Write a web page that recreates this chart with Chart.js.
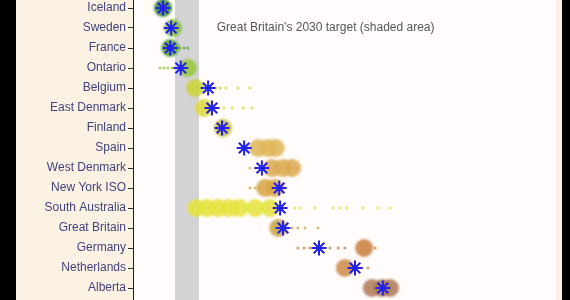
<!DOCTYPE html>
<html>
<head>
<meta charset="utf-8">
<script src="https://cdn.jsdelivr.net/npm/chart.js@4/dist/chart.umd.min.js"></script>
<style>
  html, body { margin:0; padding:0; background:#000; }
  #wrap { width:570px; height:300px; position:relative; }
</style>
</head>
<body>
<div id="wrap"><canvas id="c" width="570" height="300"></canvas></div>
<script>
// ---- data (x in gCO2/kWh) ----
const rows = ['Iceland','Sweden','France','Ontario','Belgium','East Denmark','Finland','Spain',
  'West Denmark','New York ISO','South Australia','Great Britain','Germany','Netherlands','Alberta'];
const latest = [25,42,40,62,119,127,148,194,231,267,269,275,350,425,483];
const blobX = [[25],[46],[40],[77],[92],[110],[150],[223,244,260],[252,275,294],[238,258],
  [94,117,140,163,185,217,248],[265],[444],[404],[460,481,498]];
const trailX = [[],[],[60,69,77],[19,27,35,44],[135,144,156,181,206],[140,152,169,192,210],[],
  [202,210],[206,217,304],[206,217,227],[300,310,342,379,394,408,442,473,498],
  [294,306,321,348],[306,319,331,373,390,404,467],[440,452],[]];
const rowColors = ['#3a8a28','#86bf3a','#55a030','#98c83a','#c9d430','#dcd83a','#c4bb3c','#dfb65a',
  '#dcab52','#d8a544','#e4e23a','#c9a548','#c97f3e','#d08a4c','#b07a58'];
const targetRange = [50, 100];
const noteText = "Great Britain's 2030 target (shaded area)";

const FONT = '"Liberation Sans", Arial, sans-serif';

const blobPts = [], blobCols = [], trailPts = [], trailCols = [];
rows.forEach((r, i) => {
  blobX[i].forEach(x => { blobPts.push({x, y:i}); blobCols.push(rowColors[i] + 'dd'); });
  trailX[i].forEach(x => { trailPts.push({x, y:i}); trailCols.push(rowColors[i] + 'c0'); });
});
const starPts = latest.map((x, i) => ({x, y:i}));

// background panels, shaded target band, note text
const decor = {
  id: 'decor',
  beforeDraw(chart) {
    const {ctx, chartArea:a} = chart;
    ctx.save();
    ctx.fillStyle = '#000'; ctx.fillRect(0, 0, chart.width, chart.height);
    ctx.fillStyle = '#fcf2e4'; ctx.fillRect(16, 0, 546, chart.height);
    ctx.fillStyle = '#fffcfb'; ctx.fillRect(a.left, a.top, a.right - a.left, a.bottom - a.top);
    ctx.restore();
  },
  beforeDatasetsDraw(chart) {
    const {ctx, chartArea:a, scales:{x, y}} = chart;
    const x0 = x.getPixelForValue(targetRange[0]), x1 = x.getPixelForValue(targetRange[1]);
    ctx.save();
    ctx.fillStyle = '#d4d3d6';
    ctx.fillRect(x0, a.top, x1 - x0, a.bottom - a.top);
    ctx.fillStyle = '#555';
    ctx.font = '12px ' + FONT;
    ctx.textBaseline = 'middle';
    ctx.fillText(noteText, x.getPixelForValue(137), y.getPixelForValue(1));
    ctx.restore();
  },
  beforeDatasetDraw(chart, args) {
    if (args.index === 0) { chart.ctx.save(); chart.ctx.filter = 'blur(1px)'; }
  },
  afterDatasetDraw(chart, args) {
    if (args.index === 0) chart.ctx.restore();
  }
};

new Chart(document.getElementById('c'), {
  type: 'scatter',
  data: { datasets: [
    { data: blobPts, order: 3, pointRadius: 9, backgroundColor: blobCols, borderWidth: 0 },
    { data: trailPts, order: 2, pointRadius: 1.5, backgroundColor: trailCols, borderWidth: 0 },
    { data: starPts, order: 1, pointStyle: 'star', pointRadius: 7.5, borderColor: '#2222e8', borderWidth: 2 }
  ]},
  options: {
    responsive: false, animation: false, events: [],
    layout: { autoPadding: false, padding: { left: 0, right: 14, top: 0, bottom: 0 } },
    plugins: { legend: { display: false }, tooltip: { enabled: false } },
    scales: {
      x: { type: 'linear', display: false, min: -37.5, max: 843.75 },
      y: { type: 'linear', reverse: true, min: -0.4, max: 14.6,
        afterBuildTicks: s => { s.ticks = rows.map((_, i) => ({ value: i })); },
        afterFit: s => { s.width = 133; s.paddingTop = 0; s.paddingBottom = 0; },
        grid: { drawOnChartArea: false, drawTicks: true, tickLength: 5, color: '#333' },
        border: { display: true, color: '#222', width: 1 },
        ticks: { color: '#42427e', padding: 2, font: { family: FONT, size: 12 },
          callback: v => rows[v] || '' } }
    }
  },
  plugins: [decor]
});
</script>
</body>
</html>
